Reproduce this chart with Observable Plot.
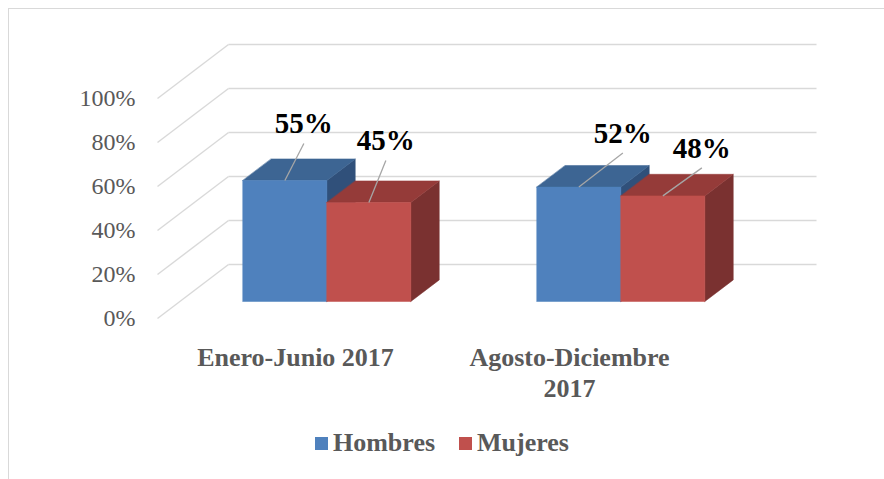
<!DOCTYPE html>
<html>
<head>
<meta charset="utf-8">
<script src="https://cdn.jsdelivr.net/npm/d3@7"></script>
<script src="https://cdn.jsdelivr.net/npm/@observablehq/plot@0.6"></script>
<style>
  html, body { margin: 0; padding: 0; background: #fff; width: 884px; height: 479px; overflow: hidden; }
  #frame { position: absolute; left: 8px; top: 8px; width: 900px; height: 500px; border: 1.5px solid #d9d9d9; box-sizing: border-box; }
  #chart { position: absolute; left: 0; top: 0; }
  #legend { position: absolute; left: 0; top: 429px; width: 884px; height: 28px; text-align: center;
            font-family: "Liberation Serif", serif; font-weight: bold; font-size: 26px; color: #595959; line-height: 28px; }
  .item { display: inline-block; margin: 0 12px; }
  .sw { display: inline-block; width: 13px; height: 13px; margin-right: 5px; vertical-align: 1px; }
</style>
</head>
<body>
<div id="frame"></div>
<div id="chart"></div>
<div id="legend"></div>
<script>
// ---- data ----
const categories = ["Enero-Junio 2017", "Agosto-Diciembre\n2017"];
const series = ["Hombres", "Mujeres"];
const hombres = [55, 52];
const mujeres = [45, 48];
const yTicks = [0, 20, 40, 60, 80, 100];

// ---- layout / style ----
const colors = {
  Hombres: { front: "#4F81BD", top: "#3D6593", side: "#30507A" },
  Mujeres: { front: "#C0504D", top: "#953B39", side: "#7A3130" }
};
const W = 884, H = 420;
const mL = 157, mR = 139, mT = 98, mB = 102;
const XPX = (W - mL - mR) / categories.length;   // px per category unit
const YPX = (H - mT - mB) / 100;                 // px per percent
const KX = 71 / XPX, KY = 54 / YPX;              // full depth vector in data units
const z0 = 0.315, z1 = 0.715;                    // bar depth span
const barW = 84 / XPX;
const labelOffsets = [[19, -37], [17, -42], [44, -34], [39, -28]]; // leader vectors (px)
const catDx = [-9, -29];
const font = "Liberation Serif";

const P = (x, y, z) => ({ x: x + z * KX, y: y + z * KY });

const values = [hombres, mujeres];
const faces = [];
const labels = [];
categories.forEach((c, i) => {
  series.forEach((s, si) => {
    const v = values[si][i];
    const a = i + 0.5 + (si - 1) * barW, b = a + barW;
    const col = colors[s];
    faces.push({ fill: col.side, pts: [P(b, 0, z0), P(b, 0, z1), P(b, v, z1), P(b, v, z0)] });
    faces.push({ fill: col.top, pts: [P(a, v, z0), P(b, v, z0), P(b, v, z1), P(a, v, z1)] });
    faces.push({ fill: col.front, pts: [P(a, 0, z0), P(b, 0, z0), P(b, v, z0), P(a, v, z0)] });
    const base = P((a + b) / 2, v, z0);
    const off = labelOffsets[i * series.length + si];
    labels.push({ x1: base.x, y1: base.y, x2: base.x + off[0] / XPX, y2: base.y - off[1] / YPX, text: v + "%" });
  });
});

const plot = Plot.plot({
  width: W, height: H,
  marginLeft: mL, marginRight: mR, marginTop: mT, marginBottom: mB,
  x: { domain: [0, categories.length], axis: null },
  y: { domain: [0, 100], axis: null },
  style: { fontFamily: font, background: "transparent", overflow: "visible" },
  marks: [
    Plot.link(yTicks, { x1: () => 0, y1: d => d, x2: () => KX, y2: d => d + KY, stroke: "#d9d9d9", strokeWidth: 1.4 }),
    Plot.link(yTicks, { x1: () => KX, y1: d => d + KY, x2: () => categories.length + KX, y2: d => d + KY, stroke: "#d9d9d9", strokeWidth: 1.4 }),
    Plot.axisY({ ticks: yTicks, tickSize: 0, tickPadding: 22, tickFormat: d => d + "%", fontSize: 24, fontFamily: font, fill: "#595959", label: null }),
    ...faces.map(f => Plot.line(f.pts, { x: "x", y: "y", fill: f.fill, stroke: f.fill, strokeWidth: 0.5, curve: "linear-closed" })),
    Plot.link(labels, { x1: "x1", y1: "y1", x2: "x2", y2: "y2", stroke: "#a6a6a6", strokeWidth: 1.3 }),
    Plot.text(labels, { x: "x2", y: "y2", text: "text", dy: -19.5, fontSize: 29, fontFamily: font, fontWeight: "bold", fill: "#000" }),
    ...categories.map((c, i) => Plot.text([c], { x: () => i + 0.5, y: () => 0, text: d => d, dx: catDx[i], dy: 25,
      lineAnchor: "top", lineHeight: 1.2, fontSize: 26, fontFamily: font, fontWeight: "bold", fill: "#595959" }))
  ]
});
document.getElementById("chart").appendChild(plot);

const legend = document.getElementById("legend");
series.forEach(s => {
  const it = document.createElement("span");
  it.className = "item";
  const sw = document.createElement("span");
  sw.className = "sw";
  sw.style.background = colors[s].front;
  it.appendChild(sw);
  it.appendChild(document.createTextNode(s));
  legend.appendChild(it);
});
</script>
</body>
</html>
